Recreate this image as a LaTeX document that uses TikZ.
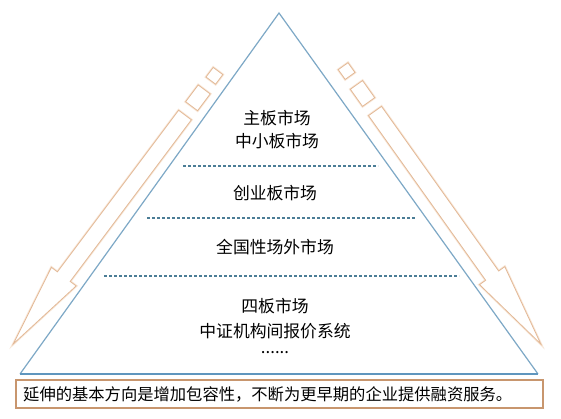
\documentclass[tikz,border=0pt]{standalone}
\usepackage{fontspec}
\newfontfamily\cjk{Noto Sans CJK SC}
\definecolor{triblue}{RGB}{125,168,198}
\definecolor{baseblue}{RGB}{95,150,190}
\definecolor{dashcol}{RGB}{75,125,150}
\definecolor{peach}{RGB}{226,184,150}
\definecolor{peachlight}{RGB}{248,230,214}
\definecolor{boxcol}{RGB}{200,150,110}
\tikzset{
  arrowshape/.style={draw=peach, line width=0.8pt, fill=white, line join=miter,
    preaction={draw=peachlight, line width=2.4pt}},
  levelline/.style={draw=dashcol, line width=2pt, dash pattern=on 3.2pt off 1.8pt},
  lvltext/.style={font=\cjk\fontsize{16.8pt}{20pt}\selectfont, inner sep=0pt, anchor=center},
  boxtext/.style={font=\cjk\fontsize{16.3pt}{20pt}\selectfont, inner sep=0pt, anchor=west}
}
\begin{document}
\begin{tikzpicture}[x=1pt,y=-1pt]
\useasboundingbox (0,0) rectangle (561,418);
\fill[white] (0,0) rectangle (561,418);
% left arrow
\begin{scope}[shift={(185,115)}, x={(-0.6pt,-0.8pt)}, y={(0.8pt,-0.6pt)}]
  \draw[arrowshape] (0,-8) -- (202,-8) -- (202,-15.5) -- (286,0) -- (202,15.5) -- (202,8) -- (0,8) -- cycle;
  \draw[arrowshape] (-11,-7.5) -- (-32,-7.5) -- (-32,7.5) -- (-11,7.5) -- cycle;
  \draw[arrowshape] (-43,-6) -- (-55,-6) -- (-55,6) -- (-43,6) -- cycle;
\end{scope}
% right arrow
\begin{scope}[shift={(375,111)}, x={(0.58pt,-0.815pt)}, y={(0.815pt,0.58pt)}]
  \draw[arrowshape] (0,-8) -- (202,-8) -- (202,-15.5) -- (286,0) -- (202,15.5) -- (202,8) -- (0,8) -- cycle;
  \draw[arrowshape] (-11,-7.5) -- (-32,-7.5) -- (-32,7.5) -- (-11,7.5) -- cycle;
  \draw[arrowshape] (-43,-6) -- (-55,-6) -- (-55,6) -- (-43,6) -- cycle;
\end{scope}
% triangle
\coordinate (apex) at (279,13);
\coordinate (bl) at (20,374);
\coordinate (br) at (538,374);
\draw[triblue, line width=1.2pt, line join=miter] (bl) -- (apex) -- (br);
\draw[baseblue, line width=2.4pt] (bl) -- (br);
% level lines
\coordinate (d1a) at (183,165.5); \coordinate (d1b) at (378,165.5);
\coordinate (d2a) at (147,217.5); \coordinate (d2b) at (416,217.5);
\coordinate (d3a) at (104,275.5); \coordinate (d3b) at (459,275.5);
\draw[levelline] (d1a) -- (d1b);
\draw[levelline] (d2a) -- (d2b);
\draw[levelline] (d3a) -- (d3b);
% texts
\node[lvltext] (t1) at (277,118) {主板市场};
\node[lvltext] (t2) at (277,141) {中小板市场};
\node[lvltext] (t3) at (275,193) {创业板市场};
\node[lvltext] (t4) at (275,247) {全国性场外市场};
\node[lvltext] (t5) at (275,306) {四板市场};
\node[lvltext] (t6) at (275,331) {中证机构间报价系统};
\node[lvltext] (t7) at (275,353) {......};
% bottom box
\draw[boxcol, line width=1.2pt, fill=white] (16,380) rectangle (543,408);
\node[boxtext] (bt) at (23,394) {延伸的基本方向是增加包容性，不断为更早期的企业提供融资服务。};
\end{tikzpicture}
\end{document}
